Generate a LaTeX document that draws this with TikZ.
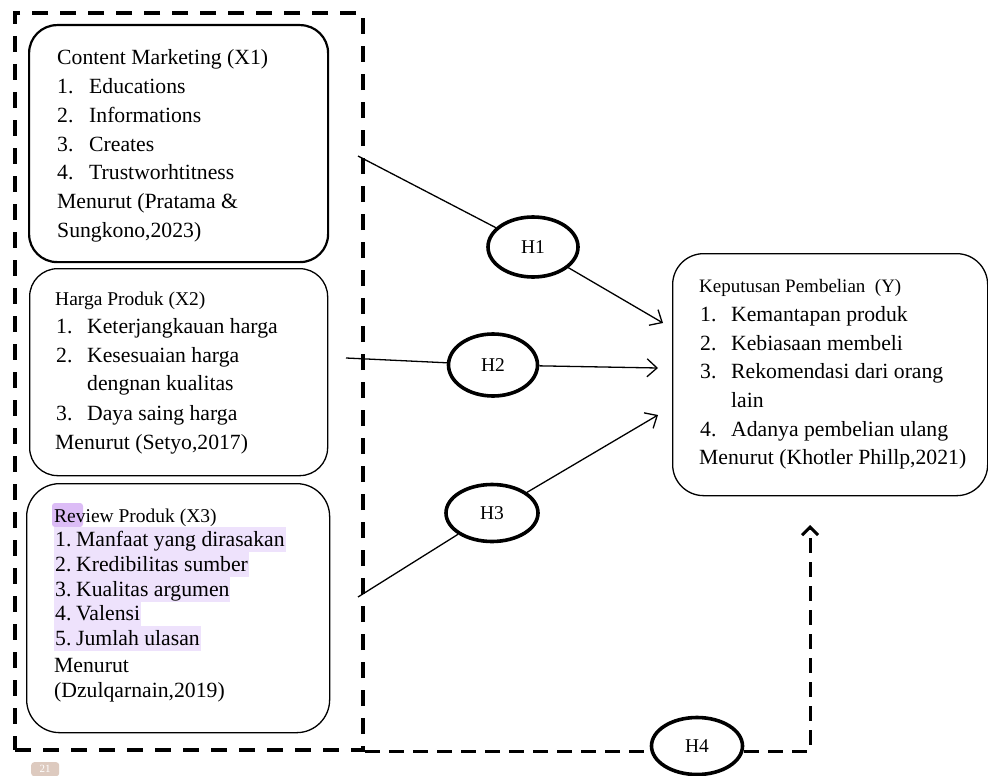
\documentclass[tikz,border=0pt]{standalone}
\usepackage{fontspec}
\setmainfont{Liberation Serif}
\usetikzlibrary{shapes.geometric,arrows.meta}
\definecolor{hlc}{HTML}{EEE2FC}
\definecolor{hldark}{HTML}{DCBCF6}
\definecolor{badge}{HTML}{DDCABF}
\newcommand{\itm}[2]{\makebox[#1][l]{#2}}
\begin{document}
\begin{tikzpicture}[x=1pt,y=-1pt,
  box/.style={draw, rounded corners=28pt, line width=1.3pt, inner sep=0pt, anchor=north west},
  txt/.style={anchor=base west, inner sep=0pt, font=\fontsize{21.7}{26}\selectfont},
  hdr/.style={anchor=base west, inner sep=0pt, font=\fontsize{19.5}{24}\selectfont},
  hlrow/.style={txt, fill=hlc, text height=19pt, text depth=6pt, inner xsep=1pt},
  hyp/.style={draw, ellipse, line width=3.6pt, minimum width=90pt, minimum height=60pt, inner sep=0pt, font=\fontsize{19.5}{22}\selectfont},
  conn/.style={line width=1.3pt},
  arr/.style={line width=1.3pt, -{Straight Barb[length=10pt,width=18pt]}},
  grpline/.style={draw, dash pattern=on 16pt off 12pt, line width=4pt, inner sep=0pt, anchor=north west},
  dline/.style={dash pattern=on 15pt off 9pt, line width=3pt},
  darr/.style={dline, -{Straight Barb[length=8pt,width=16pt]}}
]
\useasboundingbox (0,0) rectangle (988,776);
\fill[white] (0,0) rectangle (988,776);

% outer dashed group
\node (grp) [grpline, minimum width=348pt, minimum height=737pt] at (13,11) {};

% X1 box
\node (x1) [box, line width=2.2pt, minimum width=299pt, minimum height=237pt] at (28,24) {};
\node (x1h) [txt] at (57,64) {Content Marketing (X1)};
\node (x1a) [txt] at (57,93) {\itm{32pt}{1.}Educations};
\node (x1b) [txt] at (57,122) {\itm{32pt}{2.}Informations};
\node (x1c) [txt] at (57,151) {\itm{32pt}{3.}Creates};
\node (x1d) [txt] at (57,179) {\itm{32pt}{4.}Trustworhtitness};
\node (x1e) [txt] at (57,208) {Menurut (Pratama \&};
\node (x1f) [txt] at (57,237) {Sungkono,2023)};

% X2 box
\node (x2) [box, minimum width=298pt, minimum height=207pt] at (29,268) {};
\node (x2h) [hdr] at (55,305) {Harga Produk (X2)};
\node (x2a) [txt] at (56,333) {\itm{31pt}{1.}Keterjangkauan harga};
\node (x2b) [txt] at (56,362) {\itm{31pt}{2.}Kesesuaian harga};
\node (x2c) [txt] at (87,390) {dengnan kualitas};
\node (x2d) [txt] at (56,420) {\itm{31pt}{3.}Daya saing harga};
\node (x2e) [txt] at (55,449) {Menurut (Setyo,2017)};

% X3 box
\node (x3) [box, rounded corners=33pt, minimum width=303pt, minimum height=249pt] at (26,483) {};
\fill[hldark, rounded corners=3pt] (52,503) rectangle (83,527);
\node (x3h) [hdr] at (54,522) {Review Produk (X3)};
\node (x3a) [hlrow] at (54,546) {\itm{21pt}{1.}Manfaat yang dirasakan};
\node (x3b) [hlrow] at (54,571) {\itm{21pt}{2.}Kredibilitas sumber};
\node (x3c) [hlrow] at (54,596) {\itm{21pt}{3.}Kualitas argumen};
\node (x3d) [hlrow] at (54,620) {\itm{21pt}{4.}Valensi};
\node (x3e) [hlrow] at (54,645) {\itm{21pt}{5.}Jumlah ulasan};
\node (x3f) [txt] at (54,672) {Menurut};
\node (x3g) [txt] at (54,697) {(Dzulqarnain,2019)};

% Y box
\node (y) [box, rounded corners=31pt, minimum width=315pt, minimum height=242pt] at (672,253) {};
\node (yh) [hdr, font=\fontsize{19}{24}\selectfont] at (699,292) {Keputusan Pembelian\ \ (Y)};
\node (ya) [txt] at (700,321) {\itm{31pt}{1.}Kemantapan produk};
\node (yb) [txt] at (700,350) {\itm{31pt}{2.}Kebiasaan membeli};
\node (yc) [txt] at (700,378) {\itm{31pt}{3.}Rekomendasi dari orang};
\node (yd) [txt] at (731,407) {lain};
\node (ye) [txt] at (700,436) {\itm{31pt}{4.}Adanya pembelian ulang};
\node (yf) [txt] at (699,464) {Menurut (Khotler Phillp,2021)};

% hypotheses
\node (h1) [hyp] at (533,247) {H1};
\node (h2) [hyp, minimum width=89pt, minimum height=62pt] at (493,365) {H2};
\node (h3) [hyp, minimum width=92pt, minimum height=57pt] at (492,513) {H3};
\node (h4) [hyp, minimum width=91pt, minimum height=57pt] at (697,746) {H4};

% connectors
\coordinate (s1) at (358,156);
\coordinate (t1) at (663,323);
\coordinate (s2) at (346,358);
\coordinate (t2) at (658,368);
\coordinate (s3) at (358,597);
\coordinate (t3) at (658,415);
\coordinate (s4) at (365,751);
\coordinate (c4) at (810,751);
\coordinate (t4) at (810,525);

\draw[conn] (s1) -- (h1);
\draw[arr] (h1) -- (t1);
\draw[conn] (s2) -- (h2);
\draw[arr] (h2) -- (t2);
\draw[conn] (s3) -- (h3);
\draw[arr] (h3) -- (t3);
\draw[dline] (s4) -- (s4 -| h4.west);
\draw[darr] (c4 -| h4.east) -- (c4) -- (t4);

% page badge
\node (pg) [fill=badge, rounded corners=3pt, text=white, minimum width=28pt, minimum height=14pt, inner sep=0pt, anchor=north west, font=\fontsize{11}{12}\selectfont] at (31,762) {21};
\end{tikzpicture}
\end{document}
